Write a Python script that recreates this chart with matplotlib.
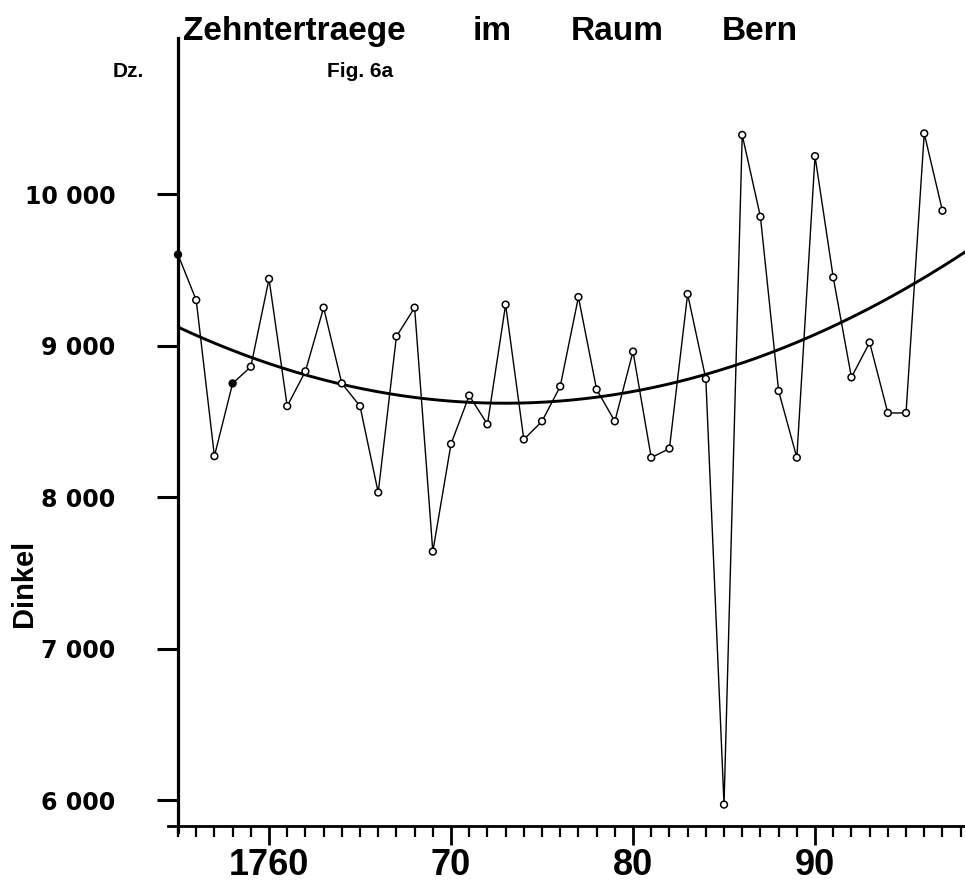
import matplotlib
matplotlib.use("Agg")
import matplotlib.pyplot as plt
import numpy as np
from matplotlib.ticker import FixedLocator, MultipleLocator

# ---- data ----
years = list(range(1755, 1798))
values = [9600, 9300, 8270, 8750, 8860, 9440, 8600, 8830, 9250, 8750,
          8600, 8030, 9060, 9250, 7640, 8350, 8670, 8480, 9270, 8380,
          8500, 8730, 9320, 8710, 8500, 8960, 8260, 8320, 9340, 8780,
          5970, 10390, 9850, 8700, 8260, 10250, 9450, 8790, 9020, 8555,
          8555, 10400, 9890]
filled_years = [1755, 1758]

trend_years = [1755, 1760, 1765, 1770, 1775, 1780, 1785, 1790, 1795, 1798.3]
trend_values = [9120, 8880, 8720, 8635, 8627, 8697, 8845, 9070, 9370, 9630]

x_ticks = [1760, 1770, 1780, 1790]
x_tick_labels = ["1760", "70", "80", "90"]
y_ticks = [6000, 7000, 8000, 9000, 10000]
y_tick_labels = ["6 000", "7 000", "8 000", "9 000", "10 000"]

title_words = ["Zehntertraege", "im", "Raum", "Bern"]

# ---- figure ----
W, H = 965, 882
fig = plt.figure(figsize=(W / 100, H / 100), dpi=100)
ax_left_px, ax_right_px = 168, 965
ax_bottom_px, ax_top_px = 832, 38
ax = fig.add_axes([ax_left_px / W, 1 - ax_bottom_px / H,
                   (ax_right_px - ax_left_px) / W,
                   (ax_bottom_px - ax_top_px) / H])

ax.set_xlim(1754.45, 1798.24)
ax.set_ylim(5789, 11030)

# trend curve
tc = np.polyfit(trend_years, trend_values, 2)
tx = np.linspace(1755, 1798.3, 300)
ax.plot(tx, np.polyval(tc, tx), color="black", lw=2.1, zorder=2,
        solid_capstyle="butt")

# data series
ax.plot(years, values, color="black", lw=1.0, zorder=3)
face = ["black" if y in filled_years else "white" for y in years]
ax.scatter(years, values, s=24, facecolors=face, edgecolors="black",
           linewidths=1.1, zorder=4, clip_on=False)

# spines
for s in ["top", "right"]:
    ax.spines[s].set_visible(False)
ax.spines["left"].set_position(("data", 1755))
ax.spines["bottom"].set_position(("data", 5828))
ax.spines["left"].set_linewidth(2.3)
ax.spines["bottom"].set_linewidth(2.0)

# ticks
ax.xaxis.set_major_locator(FixedLocator(x_ticks))
ax.set_xticklabels(x_tick_labels, fontsize=26, fontweight="bold",
                   family="Liberation Sans")
ax.xaxis.set_minor_locator(MultipleLocator(1))
ax.tick_params(axis="x", which="major", direction="out", length=14,
               width=2.0, pad=2)
ax.tick_params(axis="x", which="minor", direction="out", length=8,
               width=1.6)

ax.yaxis.set_major_locator(FixedLocator(y_ticks))
ax.set_yticklabels(y_tick_labels, fontsize=17, fontweight="bold",
                   family="DejaVu Sans")
ax.tick_params(axis="y", which="major", direction="out", length=15,
               width=2.2, pad=30)

# texts
title_x = [183, 473, 571, 722]
for w, xp in zip(title_words, title_x):
    fig.text(xp / W, 1 - 40 / H, w, fontsize=24, fontweight="bold",
             family="Liberation Sans", ha="left", va="baseline")
fig.text(113 / W, 1 - 77 / H, "Dz.", fontsize=15, fontweight="bold",
         family="Liberation Sans", ha="left", va="baseline")
fig.text(327 / W, 1 - 77 / H, "Fig. 6a", fontsize=15, fontweight="bold",
         family="Liberation Sans", ha="left", va="baseline")
fig.text(24 / W, 1 - 583 / H, "Dinkel", fontsize=21, fontweight="bold",
         family="Liberation Sans", rotation=90, ha="center", va="center")

fig.savefig("out.png", dpi=100, facecolor="white")
